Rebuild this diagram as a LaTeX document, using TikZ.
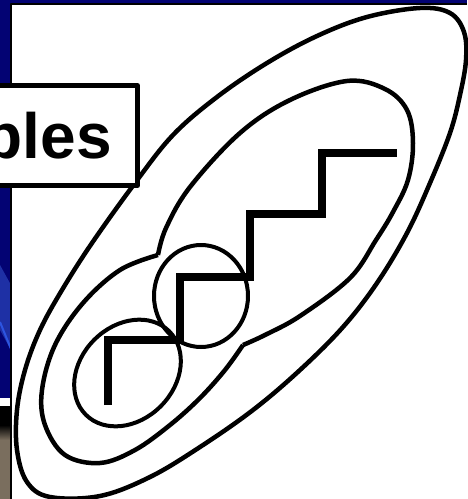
\documentclass[tikz,border=0pt]{standalone}
\usepackage{fontspec}
\setmainfont{Liberation Sans}
\definecolor{navy}{RGB}{3,3,115}
\definecolor{streak}{RGB}{30,48,165}
\definecolor{brightstreak}{RGB}{45,85,225}
\definecolor{brownish}{RGB}{122,110,94}
\begin{document}
\begin{tikzpicture}[x=1pt,y=-1pt,line join=round,
  curve/.style={line width=4.5pt,black},
  ring/.style={line width=4pt,black},
  stair/.style={line width=7.5pt,black,line join=miter,line cap=butt},
  titlebox/.style={draw=black,line width=5pt,fill=white}]
\useasboundingbox (0,0) rectangle (467,499);
% slide background
\fill[navy] (0,0) rectangle (467,499);
\fill[streak] (0,265) -- (11,285) -- (11,350) -- (0,330) -- cycle;
\draw[brightstreak,line width=2pt] (0,322) -- (11,349);
\fill[white] (0,398) rectangle (11,406);
\fill[black] (0,406) rectangle (11,425);
\shade[top color=black,bottom color=brownish] (0,425) rectangle (11,440);
\fill[brownish] (0,440) rectangle (11,499);
% picture area
\fill[white] (11,4) rectangle (467,499);
\draw[black,line width=1.5pt] (11,499) -- (11,4) -- (467,4);
% outer ellipse
\draw[curve] plot[smooth cycle,tension=0.6] coordinates {
  (135,183) (173,135) (217,97) (267,63) (317,36) (367,17) (420,8)
  (450,13) (464,32) (466,60) (460,95) (450,133) (430,183) (407,233) (377,283)
  (343,327) (300,370) (253,410) (200,447) (150,477) (100,496) (50,497)
  (27,482) (17,450) (17,410) (25,370) (40,330) (62,290) (92,243)};
% junction points of the two inner ellipses
\coordinate (p1) at (158,255);
\coordinate (p2) at (243,345);
% lower-left ellipse
\draw[curve] plot[smooth,tension=0.6] coordinates {
  (p1) (120,270) (83,303) (55,345) (42,390) (45,425) (65,455) (100,463)
  (135,450) (170,425) (200,398) (225,370) (p2)};
% upper-right ellipse
\draw[curve] plot[smooth,tension=0.6] coordinates {
  (p1) (166,228) (190,187) (240,133) (290,100) (347,81) (385,89) (407,110)
  (413,143) (408,180) (393,212) (376,240) (350,278) (300,316) (265,335) (p2)};
% circles
\draw[ring] (201,296) coordinate (mc) ellipse (47 and 51);
\draw[ring,rotate around={45:(127.5,373)}] (127.5,373) coordinate (sc) ellipse (59 and 47);
% staircase
\draw[stair] (108,405) -- (108,340) -- (180,340) -- (180,277) -- (250,277)
  -- (250,214) -- (322,214) -- (322,153) -- (397,153);
% title box
\draw[titlebox] (-10,85.5) rectangle (137.5,185.5);
\node[anchor=base east,inner sep=0pt,font=\fontsize{64}{70}\selectfont\bfseries] (title) at (112,158) {bles};
\end{tikzpicture}
\end{document}
